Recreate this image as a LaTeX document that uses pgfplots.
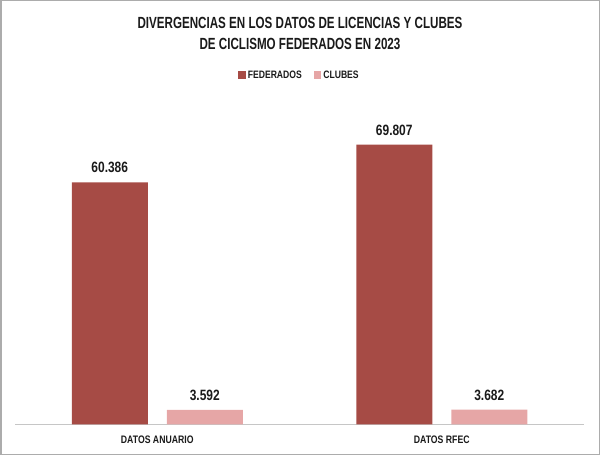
\documentclass[border=0pt]{standalone}
\usepackage{pgfplots}
\pgfplotsset{compat=1.18}
\usepackage{fontspec}
\setmainfont[FakeStretch=0.8]{Liberation Sans}
\newfontfamily\titlefont[FakeStretch=0.72]{Liberation Sans}
\definecolor{fed}{HTML}{A64B45}
\definecolor{clu}{HTML}{E6A6A6}
\definecolor{txt}{HTML}{1A1A1A}
\begin{document}
\begin{tikzpicture}
\draw[gray!65, line width=1.5bp] (0.75bp,0.75bp) rectangle (599.25bp,454.25bp);
\node[anchor=base, font=\titlefont\bfseries\fontsize{16.2}{18}\selectfont, text=txt, inner sep=0] at (300bp,426bp) {DIVERGENCIAS EN LOS DATOS DE LICENCIAS Y CLUBES};
\node[anchor=base, font=\titlefont\bfseries\fontsize{16.2}{18}\selectfont, text=txt, inner sep=0] at (300bp,405bp) {DE CICLISMO FEDERADOS EN 2023};
\begin{axis}[
  at={(15bp,30.7bp)}, anchor=south west,
  scale only axis, width=569bp, height=320.6bp,
  xmin=-0.5, xmax=1.5, ymin=0, ymax=80000,
  ybar=19bp, bar width=76bp,
  axis y line=none, axis x line*=bottom,
  x axis line style={-, draw=gray!45, line width=1bp},
  xtick={0,1}, xticklabels={DATOS ANUARIO, DATOS RFEC},
  major tick length=0pt, ytick=\empty,
  xticklabel style={font=\bfseries\fontsize{10.9}{12}\selectfont, text=txt, yshift=-8bp},
  /pgf/number format/1000 sep={.},
  /pgf/number format/assume math mode=true,
  nodes near coords,
  every node near coord/.append style={font=\bfseries\fontsize{15}{17}\selectfont, text=txt, anchor=south, inner sep=0pt, yshift=9bp},
  legend columns=2,
  legend style={draw=none, fill=none, at={(0.5,1)}, anchor=center, yshift=28bp,
    font=\bfseries\fontsize{10.8}{12}\selectfont, text=txt,
    /tikz/every even column/.append style={column sep=10bp}},
  clip=false,
]
\addplot[fill=fed, draw=none, legend image code/.code={\fill[fed] (0bp,-3.2bp) rectangle (7.5bp,4.2bp);}] coordinates {(0,60386) (1,69807)};
\addplot[fill=clu, draw=none, legend image code/.code={\fill[clu] (0bp,-3.2bp) rectangle (7.5bp,4.2bp);}] coordinates {(0,3592) (1,3682)};
\legend{FEDERADOS, CLUBES}
\end{axis}
\end{tikzpicture}
\end{document}
